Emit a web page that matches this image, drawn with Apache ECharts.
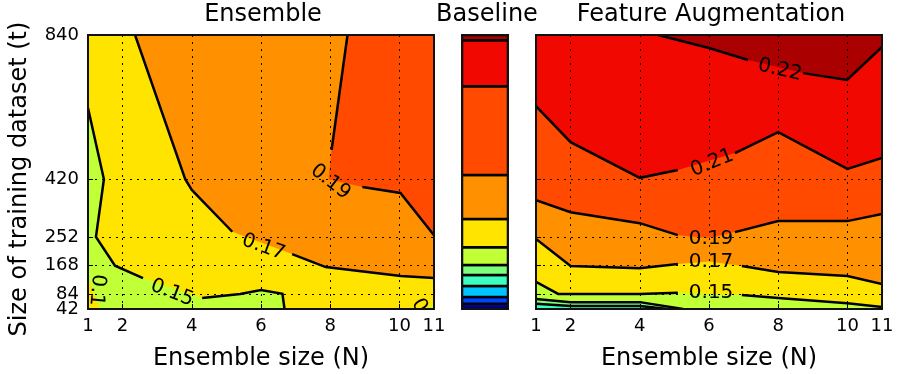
<!DOCTYPE html>
<html>
<head>
<meta charset="utf-8">
<script src="https://cdn.jsdelivr.net/npm/echarts@6/dist/echarts.min.js"></script>
<style>
html, body { margin: 0; padding: 0; background: #fff; }
#chart { width: 901px; height: 374px; }
</style>
</head>
<body>
<div id="chart"></div>
<script>
var nTicks = [1, 2, 4, 6, 8, 10, 11];
var tTicks = [42, 84, 168, 252, 420, 840];

// jet levels, low to high
var cDarkBlue = '#00008f', cBlue = '#0046ff', cLightBlue = '#00c4ff', cCyan = '#3affbd',
    cLightGreen = '#7dff7a', cYellowGreen = '#c1ff36', cYellow = '#ffe400',
    cOrange = '#ff9100', cOrangeRed = '#ff4a00', cRed = '#f10800', cDarkRed = '#aa0000';

// contour lines as (N, t) points; null = gap where the inline label sits
var ens015 = [[1, 627], [1.46, 420], [1.23, 252], [1.78, 168], [2.59, 132], null, [4.3, 74], [5.4, 86], [6, 97], [6.62, 86], [6.68, 42]];
var ens015Corner = [[1, 132], null, [1.35, 42]];
var ens015RightCorner = [[10.8, 42], null, [11, 58]];
var ens017 = [[2.36, 840], [3.81, 420], [4.0, 389], [5.17, 267], null, [6.9, 202], [7.87, 164], [10.04, 138], [11, 132]];
var ens019 = [[8.5, 840], [8.04, 505], null, [7.95, 420], null, [8.93, 397], [10.03, 380], [11, 257]];

var fa013 = [[1, 57], [2, 51], [4, 51], [4.8, 42]];
var fa014 = [[1, 71], [2, 62], [4, 62], [5.25, 42]];
var fa015 = [[1, 121], [1.64, 86], [4, 86], [5.1, 89], null, [6.95, 83], [8, 74], [10, 59], [11, 48]];
var fa017 = [[1, 246], [2, 167], [4, 161], [5.1, 173], null, [6, 180], null, [6.95, 167], [8, 150], [10, 138], [11, 115]];
var fa019 = [[1, 359], [2, 324], [4, 292], [5.1, 257], null, [6, 249], null, [6.75, 266], [8, 298], [10, 298], [11, 319]];
var fa021 = [[1, 633], [2, 528], [4, 424], [5.1, 447], null, [6.75, 496], [8, 557], [10, 450], [11, 482]];
var fa022 = [[4.53, 840], [6, 802], [7.13, 767], null, [8.72, 729], [9.99, 709], [11, 805]];

// baseline column: band edges in t and their colours
var baseEdges = [42, 57, 77, 109, 141, 170, 222, 304, 432, 691, 825, 840];
var baseColors = [cDarkBlue, cBlue, cLightBlue, cCyan, cLightGreen, cYellowGreen, cYellow, cOrange, cOrangeRed, cRed, cDarkRed];

// inline contour labels: text, N, t
var ensLabels = [['0.15', 3.43, 89], ['0.17', 6.07, 222], ['0.19', 8.01, 412], ['0.1', 1.26, 97], ['0', 10.57, 52]];
var ensLabelAngles = [-21, -20, -38, -95, -60];
var faLabels = [['0.22', 8.05, 738], ['0.21', 6.09, 467], ['0.19', 6.06, 246], ['0.17', 6.06, 179], ['0.15', 6.06, 89]];
var faLabelAngles = [-13, 22, 0, 0, 0];

var FONT = '"DejaVu Sans", sans-serif';
var top_ = [[11, 840], [1, 840]];
var bottom_ = [[1, 42]];

var ensRegions = [
  { line: [[1, 42], [11, 42], [11, 840], [1, 840]], close: [], color: cYellow },
  { line: ens015, close: bottom_, color: cYellowGreen },
  { line: ens015Corner, close: bottom_, color: cYellow },
  { line: ens015RightCorner, close: [[11, 42]], color: cYellowGreen },
  { line: ens017, close: [[11, 840]], color: cOrange },
  { line: ens019, close: [[11, 840]], color: cOrangeRed }
];
var faRegions = [
  { line: [[1, 42], [11, 42], [11, 840], [1, 840]], close: [], color: cYellowGreen },
  { line: fa014, close: bottom_, color: cLightGreen },
  { line: fa013, close: bottom_, color: cCyan },
  { line: fa015, close: top_, color: cYellow },
  { line: fa017, close: top_, color: cOrange },
  { line: fa019, close: top_, color: cOrangeRed },
  { line: fa021, close: top_, color: cRed },
  { line: fa022, close: [[11, 840]], color: cDarkRed }
];
var baseRegions = baseColors.map(function (c, i) {
  return { line: [[0, baseEdges[i]], [1, baseEdges[i]], [1, baseEdges[i + 1]], [0, baseEdges[i + 1]]], close: [], color: c };
});

function fillSeries(gi, regions, stroke) {
  return {
    type: 'custom', xAxisIndex: gi, yAxisIndex: gi, z: 1, silent: true, clip: true,
    data: regions.map(function (r) { return r.line[0]; }),
    renderItem: function (params, api) {
      var r = regions[params.dataIndex];
      var pts = r.line.filter(Boolean).concat(r.close).map(function (p) { return api.coord(p); });
      return {
        type: 'polygon', shape: { points: pts },
        style: { fill: r.color, stroke: stroke ? '#000' : null, lineWidth: stroke ? 2.5 : 0 }
      };
    }
  };
}

function lineSeries(gi, lines) {
  return {
    type: 'custom', xAxisIndex: gi, yAxisIndex: gi, z: 4, silent: true, clip: true,
    data: lines.map(function (l) { return l[0]; }),
    renderItem: function (params, api) {
      var segs = [], cur = [];
      lines[params.dataIndex].forEach(function (p) {
        if (p) { cur.push(api.coord(p)); }
        else { if (cur.length > 1) segs.push(cur); cur = []; }
      });
      if (cur.length > 1) segs.push(cur);
      return {
        type: 'group',
        children: segs.map(function (s) {
          return { type: 'polyline', shape: { points: s }, style: { stroke: '#000', lineWidth: 2.5, fill: 'none' } };
        })
      };
    }
  };
}

function labelSeries(gi, labels, angles) {
  return {
    type: 'custom', xAxisIndex: gi, yAxisIndex: gi, z: 5, silent: true, clip: true,
    data: labels.map(function (l) { return [l[1], l[2]]; }),
    renderItem: function (params, api) {
      var l = labels[params.dataIndex];
      var c = api.coord([l[1], l[2]]);
      return {
        type: 'text', x: c[0], y: c[1], rotation: angles[params.dataIndex] * Math.PI / 180,
        style: { text: l[0], fill: '#000', font: '20px ' + FONT, align: 'center', verticalAlign: 'middle' }
      };
    }
  };
}

function frameSeries(gi, x0, x1) {
  return {
    type: 'custom', xAxisIndex: gi, yAxisIndex: gi, z: 6, silent: true, clip: false,
    data: [[x0, 42]],
    renderItem: function (params, api) {
      var a = api.coord([x0, 840]), b = api.coord([x1, 42]);
      return {
        type: 'rect', shape: { x: a[0], y: a[1], width: b[0] - a[0], height: b[1] - a[1] },
        style: { fill: 'none', stroke: '#111', lineWidth: 2 }
      };
    }
  };
}

var gridLine = { show: true, lineStyle: { color: '#000', width: 1, type: [2, 5] } };
var tickStyle = { inside: true, length: 5, lineStyle: { color: '#000', width: 1 } };
var labelStyle = { color: '#000', fontSize: 18, fontFamily: FONT, hideOverlap: false };

function nAxis(gi) {
  return {
    gridIndex: gi, type: 'value', min: 1, max: 11, z: 3,
    axisLine: { show: false },
    axisTick: Object.assign({ customValues: nTicks }, tickStyle),
    axisLabel: Object.assign({ customValues: nTicks, margin: 8 }, labelStyle),
    splitLine: gridLine,
    name: 'Ensemble size (N)', nameLocation: 'middle', nameGap: 38,
    nameTextStyle: { color: '#000', fontSize: 24, fontFamily: FONT }
  };
}
function tAxis(gi, showLabels) {
  var ax = {
    gridIndex: gi, type: 'value', min: 42, max: 840, z: 3, position: 'left',
    axisLine: { show: false },
    axisTick: Object.assign({ customValues: tTicks }, tickStyle),
    // lowest label lives on its own axis so it is not dropped for overlapping "84"
    axisLabel: Object.assign({ customValues: tTicks.slice(1), margin: 9, show: showLabels }, labelStyle),
    splitLine: gridLine
  };
  if (showLabels) {
    ax.name = 'Size of training dataset (t)';
    ax.nameLocation = 'middle';
    ax.nameGap = 56;
    ax.nameRotate = 90;
    ax.nameTextStyle = { color: '#000', fontSize: 24, fontFamily: FONT, padding: [0, 14, 0, 0] };
  }
  return ax;
}

var titleStyle = { color: '#000', fontSize: 24, fontWeight: 'normal', fontFamily: FONT };

var chart = echarts.init(document.getElementById('chart'), null, { renderer: 'canvas' });
chart.setOption({
  animation: false,
  backgroundColor: '#fff',
  title: [
    { text: 'Ensemble', left: 263, top: 3, textAlign: 'center', padding: 0, textStyle: titleStyle },
    { text: 'Baseline', left: 487, top: 3, textAlign: 'center', padding: 0, textStyle: titleStyle },
    { text: 'Feature Augmentation', left: 711, top: 3, textAlign: 'center', padding: 0, textStyle: titleStyle }
  ],
  grid: [
    { left: 88, top: 35, width: 346, height: 274, outerBoundsMode: 'none' },
    { left: 462, top: 35, width: 46, height: 274, outerBoundsMode: 'none' },
    { left: 536, top: 35, width: 346, height: 274, outerBoundsMode: 'none' }
  ],
  xAxis: [
    nAxis(0),
    { gridIndex: 1, type: 'value', min: 0, max: 1, show: false },
    nAxis(2)
  ],
  yAxis: [
    tAxis(0, true),
    { gridIndex: 1, type: 'value', min: 42, max: 840, show: false },
    tAxis(2, false),
    {
      gridIndex: 0, type: 'value', min: 42, max: 840, position: 'left', z: 3,
      axisLine: { show: false }, axisTick: { show: false }, splitLine: { show: false },
      axisLabel: Object.assign({ customValues: tTicks.slice(0, 1), margin: 9 }, labelStyle)
    }
  ],
  series: [
    fillSeries(0, ensRegions, false),
    lineSeries(0, [ens015, ens017, ens019]),
    labelSeries(0, ensLabels, ensLabelAngles),
    frameSeries(0, 1, 11),
    fillSeries(1, baseRegions, true),
    frameSeries(1, 0, 1),
    fillSeries(2, faRegions, false),
    lineSeries(2, [fa013, fa014, fa015, fa017, fa019, fa021, fa022]),
    labelSeries(2, faLabels, faLabelAngles),
    frameSeries(2, 1, 11)
  ]
});
</script>
</body>
</html>
